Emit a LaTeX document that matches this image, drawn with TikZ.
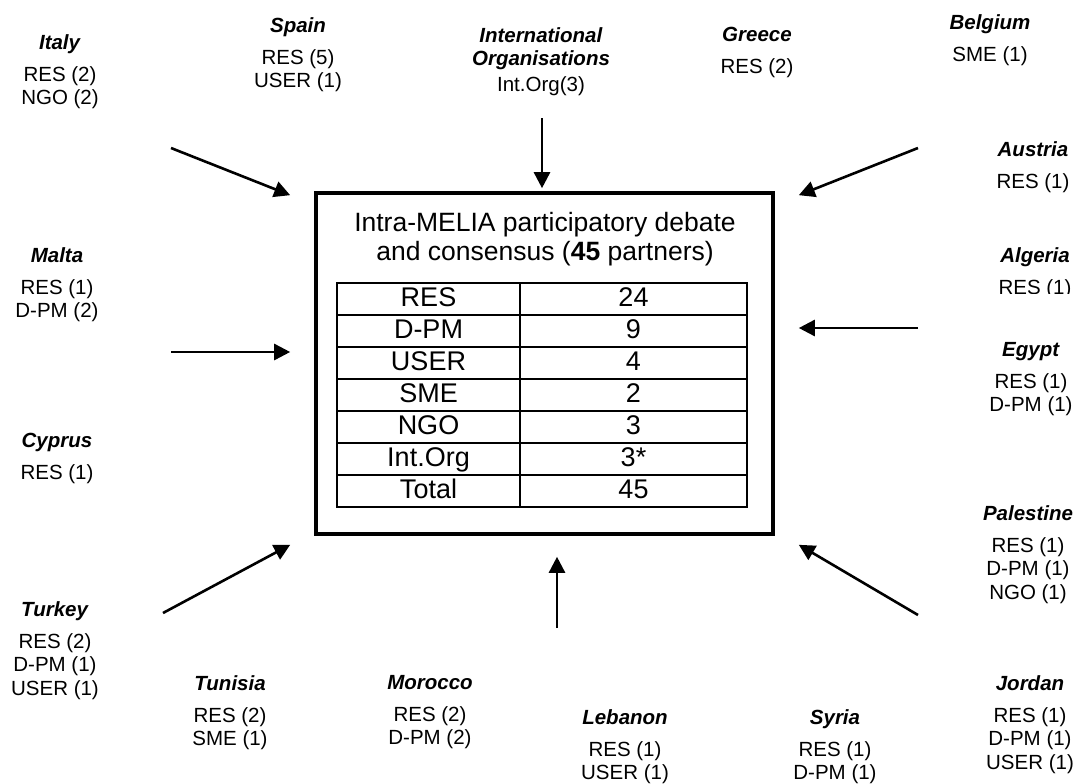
\documentclass[tikz,border=0pt]{standalone}
\usepackage{fontspec}
\setmainfont{Liberation Sans}
\usetikzlibrary{arrows.meta}

\tikzset{
  country/.style={anchor=north, inner sep=0pt, align=center, font=\fontsize{20.5}{23.5}\selectfont},
  feed/.style={line width=2.6pt, -{Triangle[length=16pt,width=16pt]}},
  cell/.style={draw, line width=1.6pt, minimum height=32pt, inner sep=0pt, text height=19.5pt, text depth=5.5pt, font=\fontsize{27}{30}\selectfont},
}
\newcommand{\ctry}[1]{\textbf{\textit{#1}}\\[8.5pt]}

\begin{document}
\begin{tikzpicture}[x=1pt, y=-1pt]
        \useasboundingbox (0,0) rectangle (1076,784);

        % central box
        \node[draw, line width=3.6pt, minimum width=457pt, minimum height=341pt] (debate) at (544.5,363.5) {};
        \node[align=center, font=\fontsize{26.5}{29.5}\selectfont] (head) at (545,239) {Intra-MELIA participatory debate\\and consensus (\textbf{45} partners)};

        \foreach \k/\v [count=\i] in {RES/24, D-PM/9, USER/4, SME/2, NGO/3, Int.Org/3*, Total/45} {
            \node[cell, minimum width=183pt] (k\i) at (428.5, 267+32*\i) {\k};
            \node[cell, minimum width=227pt] (v\i) at (633.5, 267+32*\i) {\v};
        }

        % partners round the box
        \node[country] (italy) at (60,34) {\ctry{Italy}RES (2)\\NGO (2)};
        \node[country] (spain) at (298,17) {\ctry{Spain}RES (5)\\USER (1)};
        \node[country] (intorg) at (541,27) {\textbf{\textit{International}}\\\textbf{\textit{Organisations}}\\[2.5pt]Int.Org(3)};
        \node[country] (greece) at (757,27) {\ctry{Greece}RES (2)};
        \node[country] (belgium) at (990,14) {\ctry{Belgium}SME (1)};
        \node[country] (austria) at (1033,141) {\ctry{Austria}RES (1)};
        \begin{scope}
%            \draw (980,235) rectangle (1076,293);
            \clip (980,235) rectangle (1076,293);
            \node[country] (algeria) at (1035,247) {\ctry{Algeria}RES (1)};
        \end{scope}
        \node[country] (egypt) at (1031,342) {\ctry{Egypt}RES (1)\\D-PM (1)};
        \node[country] (palestine) at (1028,505) {\ctry{Palestine}RES (1)\\D-PM (1)\\NGO (1)};
        \node[country] (jordan) at (1030,675) {\ctry{Jordan}RES (1)\\D-PM (1)\\USER (1)};
        \node[country] (syria) at (835,709) {\ctry{Syria}RES (1)\\D-PM (1)};
        \node[country] (lebanon) at (625,709) {\ctry{Lebanon}RES (1)\\USER (1)};
        \node[country] (morocco) at (430,675) {\ctry{Morocco}RES (2)\\D-PM (2)};
        \node[country] (tunisia) at (230,675) {\ctry{Tunisia}RES (2)\\SME (1)};
        \node[country] (turkey) at (55,601) {\ctry{Turkey}RES (2)\\D-PM (1)\\USER (1)};
        \node[country] (cyprus) at (57,433) {\ctry{Cyprus}RES (1)};
        \node[country] (malta) at (57,247) {\ctry{Malta}RES (1)\\D-PM (2)};

        % arrows in
        \coordinate (nwT) at (171,148);   \coordinate (nwH) at ([shift={(-24,4)}]debate.north west);
        \coordinate (wT) at (171,352);    \coordinate (wH) at ([shift={(-24,-11.5)}]debate.west);
        \coordinate (swT) at (163,613);   \coordinate (swH) at ([shift={(-24,9)}]debate.south west);
        \coordinate (nT) at (542,118);    \coordinate (nH) at ([shift={(-2.5,-3)}]debate.north);
        \coordinate (sT) at (557,628);    \coordinate (sH) at ([shift={(12.5,21)}]debate.south);
        \coordinate (neT) at (918,148);   \coordinate (neH) at ([shift={(24,4)}]debate.north east);
        \coordinate (eT) at (918,328);    \coordinate (eH) at ([shift={(24,-35.5)}]debate.east);
        \coordinate (seT) at (918,615);   \coordinate (seH) at ([shift={(24,9)}]debate.south east);
        \foreach \d in {nw,w,sw,n,s,ne,e,se}
            \draw[feed] (\d T) -- (\d H);

\end{tikzpicture}
\end{document}
